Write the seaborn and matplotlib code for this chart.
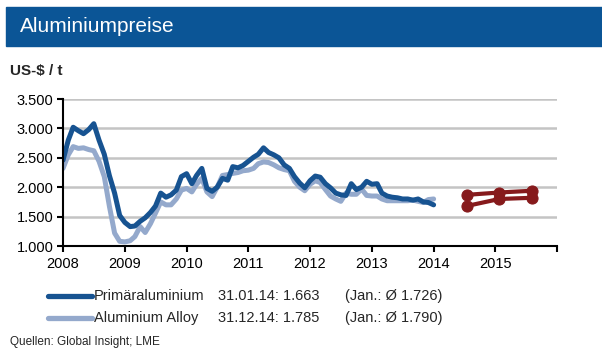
import matplotlib
matplotlib.use("Agg")
import matplotlib.pyplot as plt
import matplotlib.dates as mdates
from matplotlib.patches import Rectangle
from matplotlib.ticker import FuncFormatter
import numpy as np
import pandas as pd
import seaborn as sns

# monthly LME prices, US-$ / t
months = pd.date_range("2008-01-01", "2014-01-01", freq="MS")
primary = [
    2460, 2800, 3020, 2960, 2910, 2980, 3080, 2800, 2560, 2200, 1900, 1520,
    1400, 1330, 1340, 1420, 1480, 1570, 1680, 1900, 1830, 1870, 1950, 2180,
    2230, 2060, 2200, 2320, 1980, 1930, 2000, 2150, 2120, 2350, 2330, 2370,
    2440, 2510, 2560, 2670, 2590, 2550, 2500, 2380, 2320, 2180, 2070, 1990,
    2110, 2190, 2170, 2060, 1990, 1900, 1870, 1860, 2060, 1960, 2000, 2100,
    2050, 2060, 1900, 1850, 1830, 1820, 1800, 1800, 1780, 1800, 1750, 1740,
    1700,
]
alloy = [
    2320, 2550, 2690, 2660, 2670, 2640, 2620, 2440, 2180, 1680, 1220, 1080,
    1070, 1090, 1160, 1330, 1230, 1380, 1560, 1750, 1700, 1700, 1800, 1950,
    1980, 1920, 2050, 2150, 1920, 1840, 2000, 2200, 2215, 2235, 2250, 2280,
    2290, 2320, 2400, 2430, 2420, 2380, 2330, 2300, 2280, 2100, 2000, 1940,
    2050, 2110, 2080, 1960, 1850, 1800, 1760, 1900, 1880, 1880, 1970, 1860,
    1850, 1850, 1800, 1770, 1770, 1770, 1770, 1770, 1780, 1760, 1740, 1790,
    1800,
]

# forecasts
forecast_dates = pd.to_datetime(["2014-07-15", "2015-01-25", "2015-08-05"])
forecast_upper = [1870, 1910, 1940]
forecast_lower = [1680, 1800, 1820]

series_names = ["Primäraluminium", "Aluminium Alloy"]
latest_labels = ["31.01.14: 1.663", "31.12.14: 1.785"]
avg_labels = ["(Jan.: Ø 1.726)", "(Jan.: Ø 1.790)"]

dark_blue = "#175391"
light_blue = "#94a9cc"
dark_red = "#861a1c"
bar_blue = "#0b5596"

sns.set_style("white")
plt.rcParams["font.family"] = ["Liberation Sans", "DejaVu Sans"]

fig = plt.figure(figsize=(6.02, 3.62), dpi=100)
ax = fig.add_axes([0.1047, 0.3204, 0.8206, 0.4061])

hist = pd.DataFrame({
    "date": list(months) * 2,
    "value": primary + alloy,
    "series": [series_names[0]] * len(months) + [series_names[1]] * len(months),
})
fc = pd.DataFrame({
    "date": list(forecast_dates) * 2,
    "value": forecast_upper + forecast_lower,
    "series": ["upper"] * 3 + ["lower"] * 3,
})

# light line first so the dark one sits on top
sns.lineplot(data=hist[hist.series == series_names[1]], x="date", y="value",
             color=light_blue, lw=3.6, ax=ax, legend=False)
sns.lineplot(data=hist[hist.series == series_names[0]], x="date", y="value",
             color=dark_blue, lw=3.6, ax=ax, legend=False)
for name in ["upper", "lower"]:
    sns.lineplot(data=fc[fc.series == name], x="date", y="value",
                 color=dark_red, lw=3, marker="o", markersize=8,
                 markeredgecolor=dark_red, ax=ax, legend=False)

ax.set_xlim(pd.Timestamp("2008-01-01"), pd.Timestamp("2016-01-01"))
ax.set_ylim(1000, 3500)
ax.set_yticks(np.arange(1000, 3501, 500))
ax.yaxis.set_major_formatter(FuncFormatter(lambda v, p: f"{int(v):,}".replace(",", ".")))
ax.xaxis.set_major_locator(mdates.YearLocator())
year_fmt = mdates.DateFormatter("%Y")
ax.xaxis.set_major_formatter(FuncFormatter(
    lambda v, p: "" if year_fmt(v) == "2016" else year_fmt(v)))
ax.set_xlabel("")
ax.set_ylabel("")

ax.grid(axis="y", color="#c4c4c4", lw=1.8)
ax.set_axisbelow(True)
for s in ["top", "right"]:
    ax.spines[s].set_visible(False)
for s in ["left", "bottom"]:
    ax.spines[s].set_color("black")
    ax.spines[s].set_linewidth(1.5)
ax.tick_params(axis="both", which="major", direction="out", length=4, width=1.5,
               color="black", labelsize=10.5, labelcolor="black", pad=3)
ax.tick_params(axis="x", pad=4, bottom=True)
ax.tick_params(axis="y", left=True, pad=3)

# header bar
fig.patches.append(Rectangle((6 / 602, 1 - 46 / 362), 596 / 602, 39 / 362,
                             transform=fig.transFigure, color=bar_blue, zorder=0))
fig.text(20 / 602, 1 - 27 / 362, "Aluminiumpreise", color="white", fontsize=15,
         va="center", ha="left")
fig.text(10 / 602, 1 - 71 / 362, "US-$ / t", fontsize=11, fontweight="bold",
         va="center", ha="left")

# legend block
for i, (name, col) in enumerate(zip(series_names, [dark_blue, light_blue])):
    y = 1 - (296 + 22 * i) / 362
    fig.add_artist(plt.Line2D([48 / 602, 92 / 602], [y, y], color=col, lw=3.8,
                              transform=fig.transFigure))
    fig.text(94 / 602, y, name, fontsize=10.5, va="center", ha="left")
    fig.text(218 / 602, y, latest_labels[i], fontsize=10.5, va="center", ha="left")
    fig.text(345 / 602, y, avg_labels[i], fontsize=10.5, va="center", ha="left")

fig.text(10 / 602, 1 - 342 / 362, "Quellen: Global Insight; LME", fontsize=8.5,
         va="center", ha="left")

fig.savefig("out.png", dpi=100)
